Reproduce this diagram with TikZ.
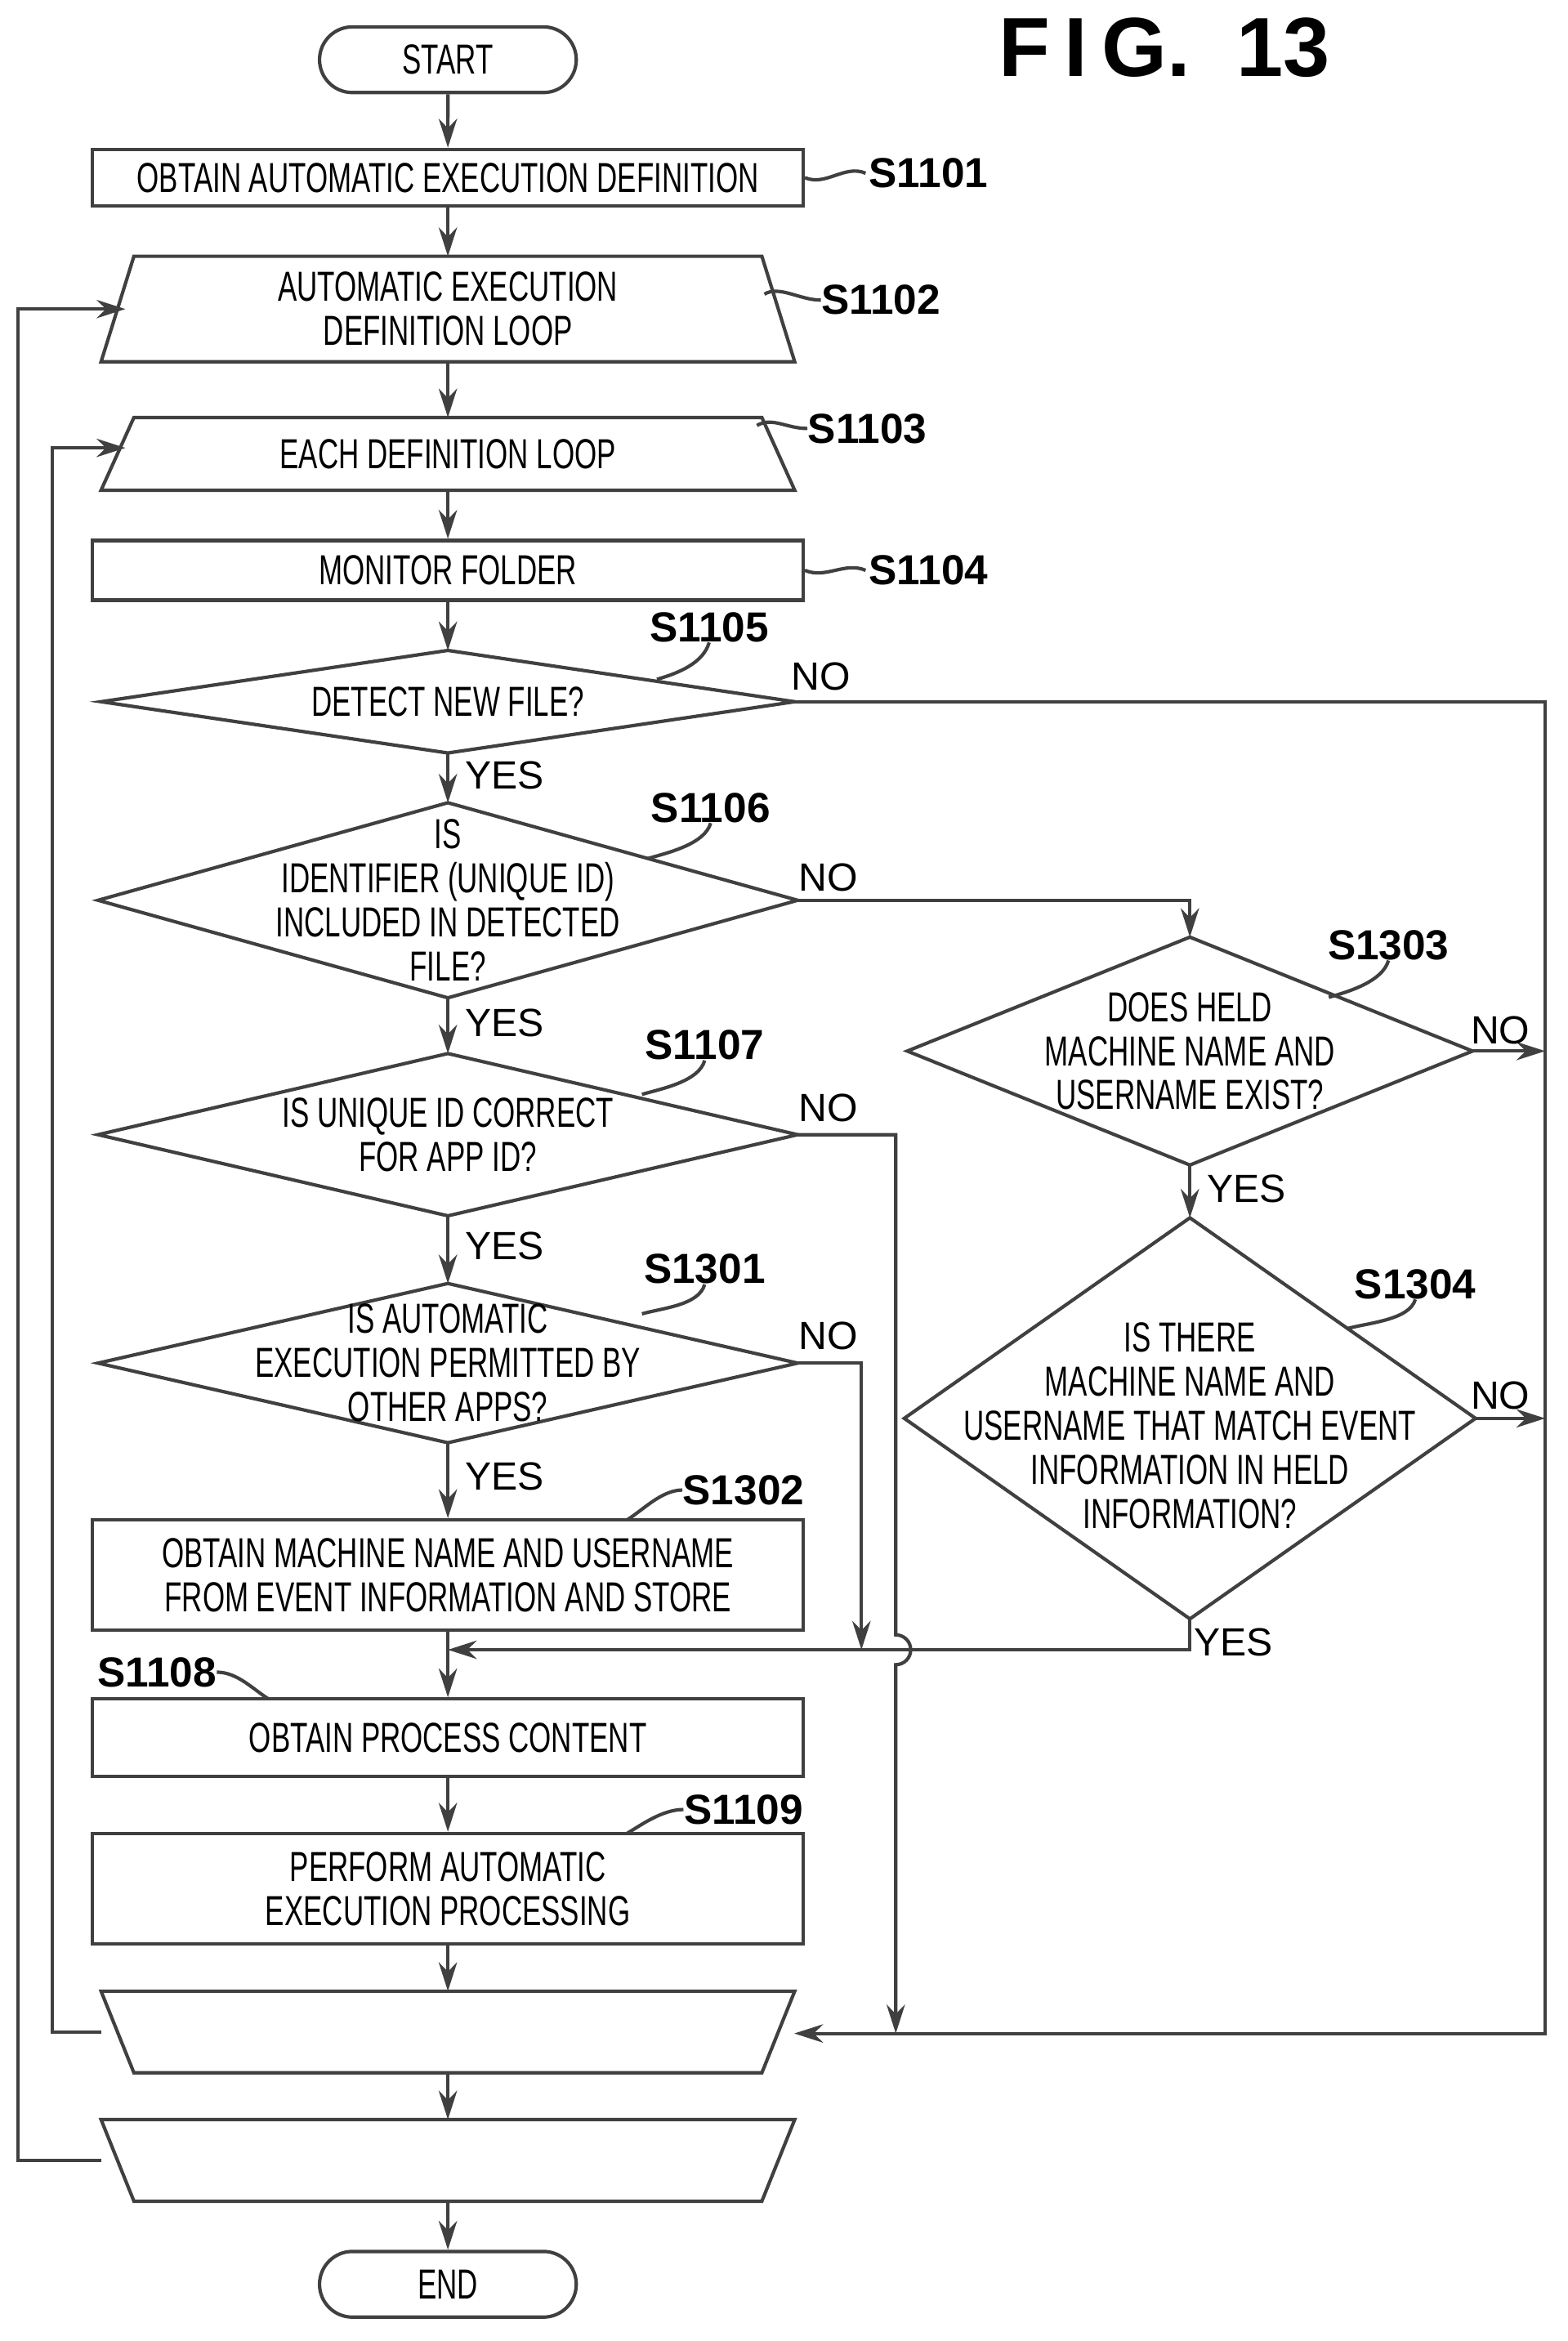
\documentclass[tikz,border=0pt]{standalone}
\usepackage{fontspec}
\setmainfont{Liberation Sans}[FakeStretch=0.68]
\newfontfamily\labfont{Liberation Sans}
\usetikzlibrary{calc,arrows.meta,shapes.misc}

\tikzset{
    line/.style={line width=1.3pt, draw=black!75},
    arr/.style={line, -{Stealth[length=11pt,width=7pt]}},
    blk/.style={inner sep=0pt, minimum width=9.52cm},
    box/.style={blk, line, draw},
    term/.style={rounded rectangle, line, draw, minimum width=3.44cm, minimum height=0.88cm, txt},
    txt/.style={align=center, inner sep=0pt, font=\fontsize{16}{16.8}\selectfont},
    steplab/.style={font=\labfont\bfseries\fontsize{16}{18}\selectfont, inner sep=0pt},
    yn/.style={font=\labfont\fontsize{15}{17}\selectfont, inner sep=0pt},
}

\begin{document}
\begin{tikzpicture}[x=0.02cm, y=-0.02cm]
    \useasboundingbox (0,0) rectangle (1050,1568);
    \node[font=\labfont\bfseries\fontsize{32}{34}\selectfont] (fig) at (780,32) {F\,I\,G.\;\;13};

    % boxes
    \node[term] (start) at (300,40) {START};
    \node[box, minimum height=0.76cm, txt] (s1101) at (300,119) {OBTAIN AUTOMATIC EXECUTION DEFINITION};
    \node[blk, minimum width=9.28cm, minimum height=1.4cm, txt] (s1102) at (300,207) {AUTOMATIC EXECUTION\\DEFINITION LOOP};
    \node[blk, minimum width=9.28cm, minimum height=0.96cm, txt] (s1103) at (300,304) {EACH DEFINITION LOOP};
    \node[box, minimum height=0.8cm, txt] (s1104) at (300,382) {MONITOR FOLDER};
    \node[blk, minimum width=9.28cm, minimum height=1.36cm] (s1105) at (300,470) {};
    \node[blk, minimum width=9.36cm, minimum height=2.6cm] (s1106) at (300,603) {};
    \node[blk, minimum width=9.36cm, minimum height=2.16cm] (s1107) at (300,760) {};
    \node[blk, minimum width=9.36cm, minimum height=2.12cm] (s1301) at (300,913) {};
    \node[box, minimum height=1.48cm, txt] (s1302) at (300,1055) {OBTAIN MACHINE NAME AND USERNAME\\FROM EVENT INFORMATION AND STORE};
    \node[box, minimum height=1.04cm, txt] (s1108) at (300,1164) {OBTAIN PROCESS CONTENT};
    \node[box, minimum height=1.48cm, txt] (s1109) at (300,1265) {PERFORM AUTOMATIC\\EXECUTION PROCESSING};
    \node[blk, minimum width=9.28cm, minimum height=1.08cm] (end1) at (300,1361) {};
    \node[blk, minimum width=9.28cm, minimum height=1.08cm] (end2) at (300,1447) {};
    \node[term] (stop) at (300,1530) {END};
    \node[blk, minimum width=7.56cm, minimum height=3.04cm] (s1303) at (797,704) {};
    \node[blk, minimum width=7.64cm, minimum height=5.36cm] (s1304) at (797,950) {};

    % loop shapes
    \foreach \n in {s1102, s1103}
        \draw[line] ($(\n.north west)+(22,0)$) -- ($(\n.north east)+(-22,0)$) -- (\n.south east) -- (\n.south west) -- cycle;
    \foreach \n in {end1, end2}
        \draw[line] (\n.north west) -- (\n.north east) -- ($(\n.south east)+(-22,0)$) -- ($(\n.south west)+(22,0)$) -- cycle;

    % decisions
    \foreach \n in {s1105, s1106, s1107, s1301, s1303, s1304}
        \draw[line] (\n.north) -- (\n.east) -- (\n.south) -- (\n.west) -- cycle;
    \node[txt] at (s1105) {DETECT NEW FILE?};
    \node[txt] at (s1106) {IS\\IDENTIFIER (UNIQUE ID)\\INCLUDED IN DETECTED\\FILE?};
    \node[txt] at (s1107) {IS UNIQUE ID CORRECT\\FOR APP ID?};
    \node[txt] at (s1301) {IS AUTOMATIC\\EXECUTION PERMITTED BY\\OTHER APPS?};
    \node[txt] at (s1303) {DOES HELD\\MACHINE NAME AND\\USERNAME EXIST?};
    \node[txt, yshift=-0.1cm] at (s1304) {IS THERE\\MACHINE NAME AND\\USERNAME THAT MATCH EVENT\\INFORMATION IN HELD\\INFORMATION?};

    % step labels
    \node[steplab] (l1101) at (622,116) {S1101};
    \node[steplab] (l1102) at (590,201) {S1102};
    \node[steplab] (l1103) at (581,287) {S1103};
    \node[steplab] (l1104) at (622,382) {S1104};
    \node[steplab] (l1105) at (475,420) {S1105};
    \node[steplab] (l1106) at (476,541) {S1106};
    \node[steplab] (l1107) at (472,700) {S1107};
    \node[steplab] (l1301) at (472,850) {S1301};
    \node[steplab] (l1302) at (498,998) {S1302};
    \node[steplab] (l1108) at (105,1120) {S1108};
    \node[steplab] (l1109) at (498,1212) {S1109};
    \node[steplab] (l1303) at (930,633) {S1303};
    \node[steplab] (l1304) at (948,860) {S1304};
    \foreach \a/\b in {s1101.east/l1101.west, s1104.east/l1104.west}
        \draw[line] (\b) ++(-2,0) .. controls +(-14,-6) and +(14,6) .. (\a);
    \draw[line] (l1102.west) .. controls +(-14,0) and +(10,-6) .. (512,197);
    \draw[line] (l1103.west) .. controls +(-14,0) and +(10,-6) .. (507,285);
    \draw[line] (l1105.south) .. controls +(-4,14) and +(14,-4) .. (440,455);
    \draw[line] (l1106.south) .. controls +(-4,14) and +(14,-4) .. (434,575);
    \draw[line] (l1107.south) .. controls +(-4,14) and +(14,-4) .. (430,733);
    \draw[line] (l1301.south) .. controls +(-4,14) and +(14,-4) .. (430,880);
    \draw[line] (l1302.west) .. controls +(-14,0) and +(10,-6) .. (420,1018);
    \draw[line] (l1108.east) .. controls +(14,0) and +(-10,-6) .. (180,1138);
    \draw[line] (l1109.west) .. controls +(-14,0) and +(10,-6) .. (420,1228);
    \draw[line] (l1303.south) .. controls +(-4,14) and +(14,-4) .. (890,668);
    \draw[line] (l1304.south) .. controls +(-4,14) and +(14,-4) .. (902,890);

    % main flow
    \draw[arr] (start) -- (s1101);
    \draw[arr] (s1101) -- (s1102.north);
    \draw[arr] (s1102) -- (s1103.north);
    \draw[arr] (s1103) -- (s1104);
    \draw[arr] (s1104) -- (s1105.north);
    \draw[arr] (s1105.south) -- node[yn, right=6pt, pos=0.45] {YES} (s1106.north);
    \draw[arr] (s1106.south) -- node[yn, right=6pt, pos=0.45] {YES} (s1107.north);
    \draw[arr] (s1107.south) -- node[yn, right=6pt, pos=0.45] {YES} (s1301.north);
    \draw[arr] (s1301.south) -- node[yn, right=6pt, pos=0.45] {YES} (s1302);
    \draw[arr] (s1302) -- (s1108);
    \draw[arr] (s1108) -- (s1109);
    \draw[arr] (s1109) -- (end1.north);
    \draw[arr] (end1.south) -- (end2.north);
    \draw[arr] (end2.south) -- (stop);
    \draw[arr] (s1303.south) -- node[yn, right=6pt, pos=0.45] {YES} (s1304.north);

    % side paths
    \coordinate (join) at (300,1105);
    \coordinate (ret) at (532,1362);
    \draw[arr] (s1105.east) -- (1035,470) -- (1035,1362) -- (ret);
    \node[yn] at (550,453) {NO};
    \draw[arr] (s1106.east) -- (797,603) -- (s1303.north);
    \node[yn] at (555,588) {NO};
    \draw[arr] (s1303.east) -- (1035,704);
    \node[yn] at (1005,690) {NO};
    \draw[arr] (s1304.east) -- (1035,950);
    \node[yn] at (1005,935) {NO};
    \draw[arr] (s1304.south) -- (797,1105) -- (join);
    \node[yn] at (826,1100) {YES};
    \draw[arr] (s1107.east) -- (600,760) -- (600,1095) arc[start angle=-90, end angle=90, radius=10] -- (600,1362);
    \node[yn] at (555,742) {NO};
    \draw[arr] (s1301.east) -- (577,913) -- (577,1105);
    \node[yn] at (555,895) {NO};

    % loop returns
    \draw[arr] (end1.west) -- (35,1361) -- (35,300) -- (84,300);
    \draw[arr] (end2.west) -- (12,1447) -- (12,207) -- (84,207);
\end{tikzpicture}
\end{document}
